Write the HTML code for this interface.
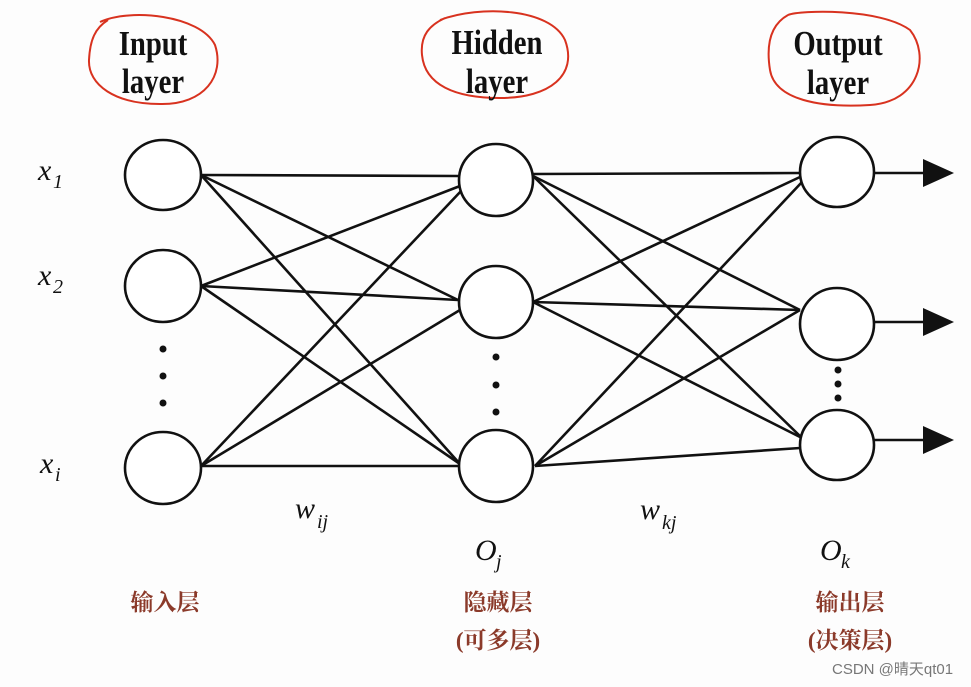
<!DOCTYPE html>
<html><head><meta charset="utf-8"><style>
html,body{margin:0;padding:0;background:#fdfdfd;}
svg{display:block;}
.lbl{font-family:"Liberation Serif",serif;font-weight:bold;font-size:35px;fill:#111;}
.var{font-family:"Liberation Serif",serif;font-style:italic;font-size:30px;fill:#111;}
.sub{font-family:"Liberation Serif",serif;font-style:italic;font-size:20px;fill:#111;}
.cn{font-family:"Liberation Serif","Noto Serif CJK SC",serif;font-weight:bold;font-size:23px;fill:#8b3a2a;}
</style></head><body>
<svg width="971" height="687" viewBox="0 0 971 687" xmlns="http://www.w3.org/2000/svg">
<rect width="971" height="687" fill="#fdfdfd"/>
<g fill="none" stroke="#d8321f" stroke-width="2">
<path d="M100 22 C130 8 200 15 215 45 C225 75 205 105 160 104 C115 104 88 85 89 60 C90 40 95 28 108 20"/>
<path d="M440 20 C480 5 550 8 565 40 C578 75 550 98 500 98 C455 98 425 85 422 55 C420 35 430 25 445 18"/>
<path d="M788 15 C800 10 880 8 910 30 C930 55 920 102 870 105 C820 108 775 100 770 70 C766 45 770 25 788 15"/>
</g>
<g transform="translate(153,55) scale(0.82,1)"><text class="lbl" text-anchor="middle">Input</text></g>
<g transform="translate(153,93) scale(0.82,1)"><text class="lbl" text-anchor="middle">layer</text></g>
<g transform="translate(497,54) scale(0.82,1)"><text class="lbl" text-anchor="middle">Hidden</text></g>
<g transform="translate(497,93) scale(0.82,1)"><text class="lbl" text-anchor="middle">layer</text></g>
<g transform="translate(838,55) scale(0.82,1)"><text class="lbl" text-anchor="middle">Output</text></g>
<g transform="translate(838,94) scale(0.82,1)"><text class="lbl" text-anchor="middle">layer</text></g>

<g stroke="#111" stroke-width="2.6" fill="none">
<line x1="201" y1="175" x2="458" y2="176"/>
<line x1="201" y1="175" x2="458" y2="300"/>
<line x1="201" y1="175" x2="460" y2="464"/>
<line x1="201" y1="286" x2="460" y2="186"/>
<line x1="201" y1="286" x2="458" y2="300"/>
<line x1="201" y1="286" x2="460" y2="464"/>
<line x1="201" y1="466" x2="462" y2="190"/>
<line x1="201" y1="466" x2="460" y2="310"/>
<line x1="201" y1="466" x2="458" y2="466"/>
<line x1="533" y1="174" x2="800" y2="173"/>
<line x1="533" y1="176" x2="800" y2="310"/>
<line x1="533" y1="176" x2="802" y2="438"/>
<line x1="533" y1="302" x2="800" y2="177"/>
<line x1="533" y1="302" x2="800" y2="310"/>
<line x1="533" y1="302" x2="802" y2="438"/>
<line x1="535" y1="466" x2="802" y2="182"/>
<line x1="535" y1="466" x2="800" y2="310"/>
<line x1="535" y1="466" x2="800" y2="448"/>
<line x1="874" y1="173" x2="930" y2="173"/>
<line x1="874" y1="322" x2="930" y2="322"/>
<line x1="874" y1="440" x2="930" y2="440"/>
</g>
<g fill="#111">
<polygon points="923,159 954,173 923,187"/>
<polygon points="923,308 954,322 923,336"/>
<polygon points="923,426 954,440 923,454"/>
</g>
<g stroke="#111" stroke-width="2.6" fill="#fff">
<ellipse cx="163" cy="175" rx="38" ry="35"/>
<ellipse cx="163" cy="286" rx="38" ry="36"/>
<ellipse cx="163" cy="468" rx="38" ry="36"/>
<ellipse cx="496" cy="180" rx="37" ry="36"/>
<ellipse cx="496" cy="302" rx="37" ry="36"/>
<ellipse cx="496" cy="466" rx="37" ry="36"/>
<ellipse cx="837" cy="172" rx="37" ry="35"/>
<ellipse cx="837" cy="324" rx="37" ry="36"/>
<ellipse cx="837" cy="445" rx="37" ry="35"/>
</g>
<g fill="#111">
<circle cx="163" cy="349" r="3.5"/><circle cx="163" cy="376" r="3.5"/><circle cx="163" cy="403" r="3.5"/>
<circle cx="496" cy="357" r="3.5"/><circle cx="496" cy="385" r="3.5"/><circle cx="496" cy="412" r="3.5"/>
<circle cx="838" cy="370" r="3.5"/><circle cx="838" cy="384" r="3.5"/><circle cx="838" cy="398" r="3.5"/>
</g>
<text class="var" x="38" y="180">x</text><text class="sub" x="53" y="188">1</text>
<text class="var" x="38" y="285">x</text><text class="sub" x="53" y="293">2</text>
<text class="var" x="40" y="473">x</text><text class="sub" x="55" y="481">i</text>
<text class="var" x="295" y="518">w</text><text class="sub" x="317" y="528">ij</text>
<text class="var" x="640" y="519">w</text><text class="sub" x="662" y="529">kj</text>
<text class="var" x="475" y="560">O</text><text class="sub" x="496" y="568">j</text>
<text class="var" x="820" y="560">O</text><text class="sub" x="841" y="568">k</text>
<text class="cn" x="165" y="610" text-anchor="middle">输入层</text>
<text class="cn" x="498" y="610" text-anchor="middle">隐藏层</text>
<text class="cn" x="498" y="648" text-anchor="middle">(可多层)</text>
<text class="cn" x="850" y="610" text-anchor="middle">输出层</text>
<text class="cn" x="850" y="648" text-anchor="middle">(决策层)</text>
<text x="832" y="674" font-family="Liberation Sans,'Noto Sans CJK SC',sans-serif" font-size="15" fill="#777">CSDN @晴天qt01</text>
</svg>
</body></html>
